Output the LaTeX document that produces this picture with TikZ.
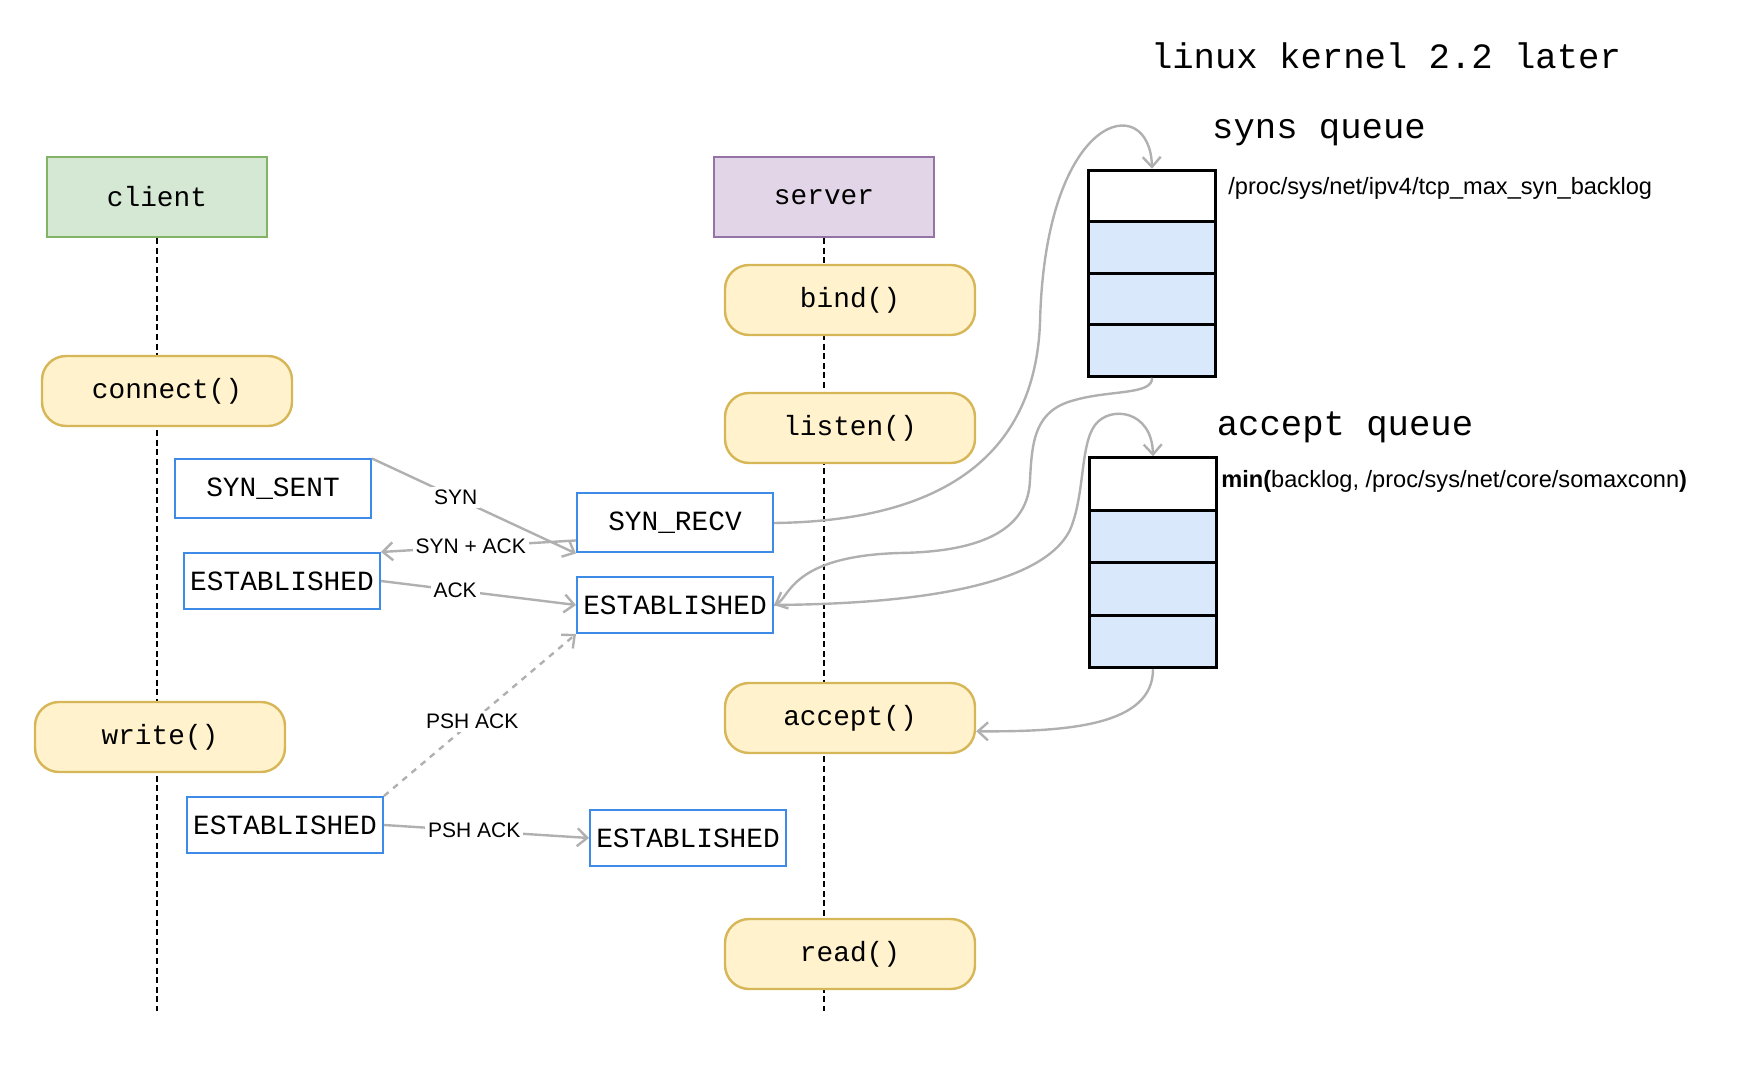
\documentclass[tikz,border=0pt]{standalone}
\usepackage{fontspec}
\setmainfont{Liberation Sans}
\setmonofont{Liberation Mono}
\usetikzlibrary{arrows.meta}

\definecolor{clientfill}{HTML}{D5E8D4}
\definecolor{clientdraw}{HTML}{82B366}
\definecolor{serverfill}{HTML}{E1D5E7}
\definecolor{serverdraw}{HTML}{9673A6}
\definecolor{callfill}{HTML}{FFF2CC}
\definecolor{calldraw}{HTML}{D6B656}
\definecolor{stateblue}{HTML}{3D8BE6}
\definecolor{qblue}{HTML}{DAE8FC}
\definecolor{flowgray}{HTML}{B0B0B0}

\newcommand{\monosize}{\fontsize{13.9}{16}\selectfont\ttfamily}
\newcommand{\headsize}{\fontsize{17.8}{20}\selectfont\ttfamily}

\begin{document}
\begin{tikzpicture}[x=0.5pt, y=-0.5pt,
  actor/.style={line width=1pt, minimum width=110pt, minimum height=40pt, font=\monosize},
  call/.style={draw=calldraw, fill=callfill, line width=1.2pt, rounded corners=12pt,
    minimum width=125pt, minimum height=35pt, font=\monosize},
  statebox/.style={draw=stateblue, fill=white, line width=1pt, inner sep=0pt,
    minimum width=98pt, minimum height=28pt, font=\monosize},
  cell/.style={draw=black, line width=1.5pt, inner sep=0pt, minimum width=63.5pt},
  lifeline/.style={line width=1.3pt, dash pattern=on 3pt off 1.8pt},
  flow/.style={draw=flowgray, line width=1.2pt, -{Straight Barb[length=5pt,width=9pt]}},
  msglabel/.style={fill=white, inner sep=1.5pt, font=\fontsize{10.5}{12}\selectfont}]
  \useasboundingbox (0,0) rectangle (1746,1090);

  % actors and lifelines
  \node[actor, draw=clientdraw, fill=clientfill] (client) at (157,197) {client};
  \node[actor, draw=serverdraw, fill=serverfill] (server) at (824,197) {server};
  \coordinate (client-end) at (157,1011);
  \coordinate (server-end) at (824,1011);
  \draw[lifeline] (client.south) -- (client-end);
  \draw[lifeline] (server.south) -- (server-end);

  % socket calls
  \node[call] (connect) at (167,391) {connect()};
  \node[call] (write) at (160,737) {write()};
  \foreach \name/\y in {bind/300, listen/428, accept/718, read/954} {
    \node[call] (\name) at (850,\y) {\name()};
  }

  % connection states
  \node[statebox, minimum height=29.5pt] (syn-sent) at (273,489) {SYN\_SENT};
  \node[statebox] (est-c1) at (282,581) {ESTABLISHED};
  \node[statebox, minimum height=29.5pt] (syn-recv) at (675,523) {SYN\_RECV};
  \node[statebox] (est-s1) at (675,605) {ESTABLISHED};
  \node[statebox] (est-c2) at (285,825) {ESTABLISHED};
  \node[statebox] (est-s2) at (688,838) {ESTABLISHED};

  % queues
  \foreach \i/\c in {0/white, 1/qblue, 2/qblue, 3/qblue} {
    \node[cell, fill=\c, minimum height=25.75pt] (sq-\i) at (1152, 196+51.5*\i) {};
    \node[cell, fill=\c, minimum height=26.25pt] (aq-\i) at (1153, 484+52.5*\i) {};
  }

  \node[font=\headsize] (title) at (1386,56) {linux kernel 2.2 later};
  \node[font=\headsize] (syns-label) at (1319,133) {syns queue};
  \node[font=\fontsize{11.8}{14}\selectfont, anchor=west, inner sep=0pt] (syns-size) at (1228,188)
    {/proc/sys/net/ipv4/tcp\_max\_syn\_backlog};
  \node[font=\headsize] (accept-label) at (1345,427) {accept queue};
  \node[font=\fontsize{11.8}{14}\selectfont, anchor=west, inner sep=0pt] (accept-size) at (1221,481)
    {\textbf{min(}backlog, /proc/sys/net/core/somaxconn\textbf{)}};

  % handshake and data
  \draw[flow] (syn-sent.north east) -- node[msglabel, pos=0.41] (syn-msg) {SYN} (syn-recv.south west);
  \draw[flow] (syn-recv.190) -- node[msglabel, pos=0.54] (synack-msg) {SYN + ACK} (est-c1.north east);
  \draw[flow] (est-c1.east) -- node[msglabel, pos=0.38] (ack-msg) {ACK} (est-s1.west);
  \draw[flow, dashed] (est-c2.north east) -- node[msglabel, pos=0.46] (push-msg) {PSH ACK} (est-s1.south west);
  \draw[flow] (est-c2.east) -- node[msglabel, pos=0.44] (data-msg) {PSH ACK} (est-s2.west);

  % kernel queues
  \draw[flow] (syn-recv.east) .. controls (950,521) and (1035,450) .. (1040,323)
    .. controls (1045,110) and (1150,90) .. (sq-0.north);
  \draw[flow] (sq-3.south) .. controls (1153,395) and (1110,390) .. (1075,400)
    .. controls (1035,410) and (1032,440) .. (1030,480)
    .. controls (1028,540) and (960,552) .. (900,553)
    .. controls (790,556) and (790,598) .. (est-s1.east);
  \draw[flow] (est-s1.east) .. controls (900,604) and (1040,590) .. (1070,530)
    .. controls (1085,495) and (1080,445) .. (1095,425)
    .. controls (1110,405) and (1152,410) .. (aq-0.north);
  \draw[flow] (aq-3.south) .. controls (1153,725) and (1070,732) .. (accept.-6);

\end{tikzpicture}
\end{document}
